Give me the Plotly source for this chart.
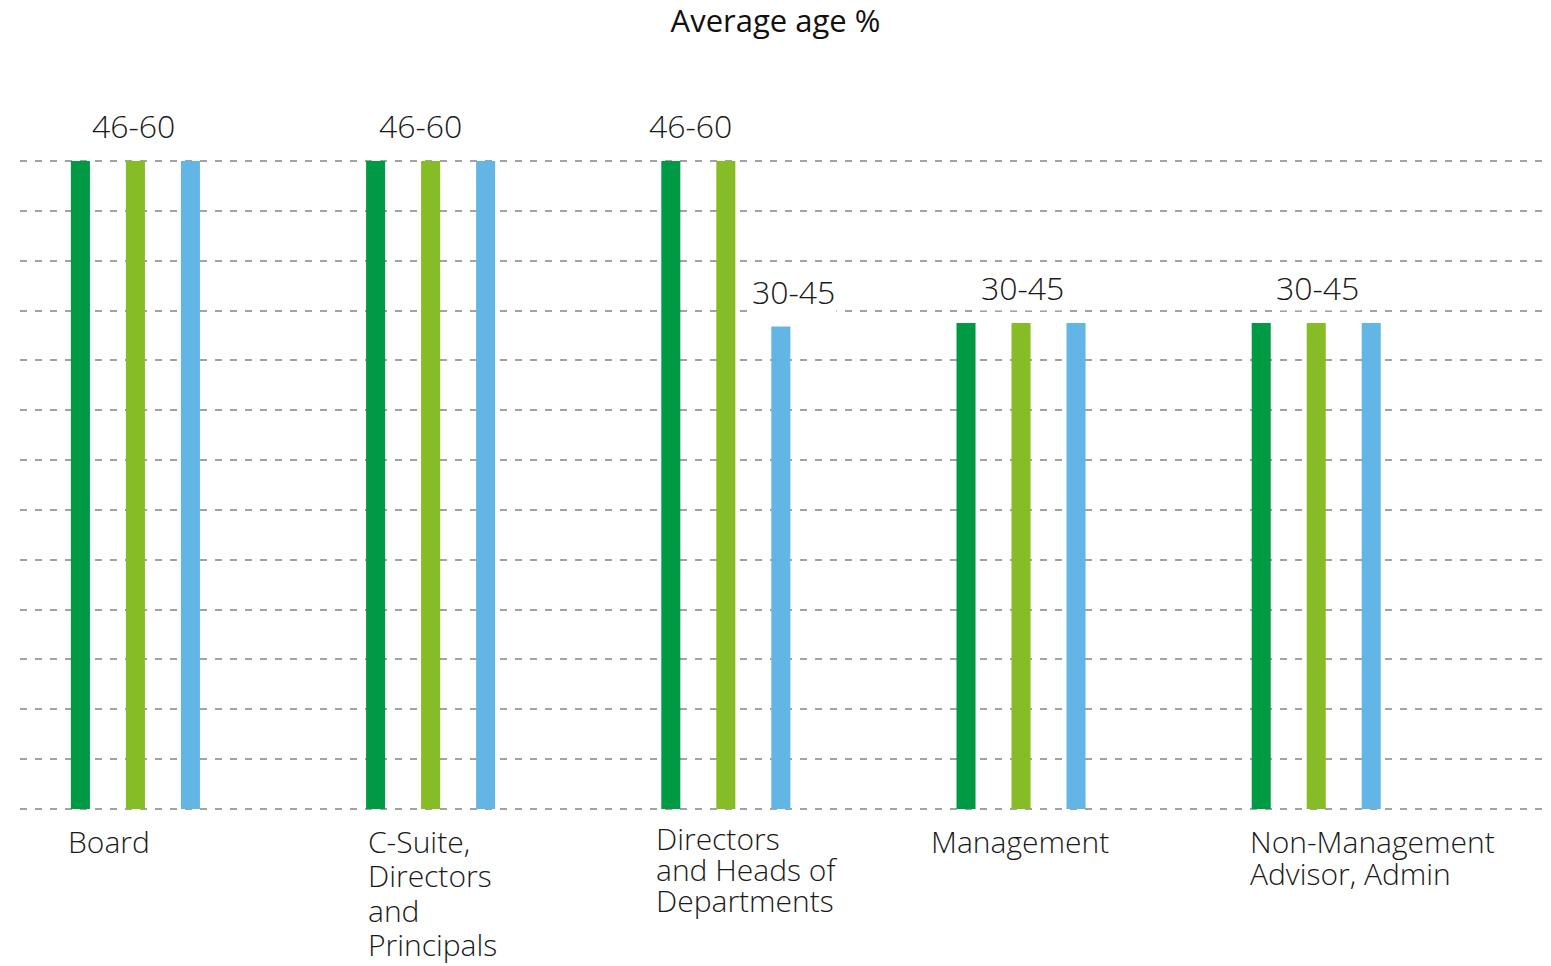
import plotly.graph_objects as go

# ---------------- data ----------------
categories = ["Board", "C-Suite, Directors and Principals", "Directors and Heads of Departments",
              "Management", "Non-Management Advisor, Admin"]
category_lines = [["Board"],
                  ["C-Suite,", "Directors", "and", "Principals"],
                  ["Directors", "and Heads of", "Departments"],
                  ["Management"],
                  ["Non-Management", "Advisor, Admin"]]
series_names = ["Series 1", "Series 2", "Series 3"]
series_1 = [65, 65, 65, 48.75, 48.75]
series_2 = [65, 65, 65, 48.75, 48.75]
series_3 = [65, 65, 48.4, 48.75, 48.75]
# bar value labels: (category index, text, series index the label sits above)
value_labels = [(0, "46-60", 1), (1, "46-60", 1), (2, "46-60", 0), (2, "30-45", 2),
                (3, "30-45", 1), (4, "30-45", 1)]
y_ticks = list(range(0, 70, 5))

# ---------------- styles ----------------
colors = ["#009A44", "#86BC25", "#62B5E5"]
label_xshift = [-2, -10, -35, 68, 1, 1]          # per value label
label_bg = [None, None, None, "white", "rgba(255,255,255,0.8)", "rgba(255,255,255,0.8)"]
cat_xshift = [-69, -65, -72, -92, -68]
cat_first_y = [-32, -32, -29, -32, -32]
cat_line_step = [35, 34.5, 31, 32, 32]
FONT = "Open Sans"

x = list(range(len(categories)))
series = [series_1, series_2, series_3]

fig = go.Figure()
for name, vals, c in zip(series_names, series, colors):
    fig.add_trace(go.Bar(x=x, y=vals, name=name, marker=dict(color=c, line=dict(width=0)),
                         hoverinfo="skip"))

annotations = []
for k, (ci, txt, si) in enumerate(value_labels):
    ann = dict(x=ci, y=series[si][ci], xref="x", yref="y", text=txt, showarrow=False,
               xanchor="center", yanchor="middle", xshift=label_xshift[k], yshift=35,
               font=dict(family=FONT, size=32, color="#1a1a1a", weight=300))
    if label_bg[k]:
        ann["bgcolor"] = label_bg[k]
    annotations.append(ann)

for ci, lines in enumerate(category_lines):
    for li, line in enumerate(lines):
        annotations.append(dict(x=ci, y=0, xref="x", yref="y", text=line,
                                showarrow=False, xanchor="left", yanchor="middle",
                                xshift=cat_xshift[ci],
                                yshift=cat_first_y[ci] - li * cat_line_step[ci],
                                font=dict(family=FONT, size=30, color="#1a1a1a", weight=300)))

fig.update_layout(
    width=1551, height=966,
    margin=dict(l=20, r=6, t=156, b=152, pad=0),
    paper_bgcolor="white", plot_bgcolor="white",
    barmode="group", bargap=0.441, bargroupgap=0.654,
    showlegend=False,
    title=dict(text="Average age %", x=0.5, xanchor="center", y=1 - 21 / 966, yanchor="middle",
               yref="container", font=dict(family=FONT, size=31, color="#111111")),
    xaxis=dict(range=[-0.391, 4.775], showticklabels=False, showgrid=False, zeroline=False,
               showline=False, ticks=""),
    yaxis=dict(range=[-0.5, 65.5], tickvals=y_ticks, showticklabels=False, showgrid=True,
               gridcolor="#a2a2a2", gridwidth=2, griddash="7px,8px", zeroline=False,
               showline=False, ticks=""),
    annotations=annotations,
    hovermode=False,
)

fig.write_html("out.html")
